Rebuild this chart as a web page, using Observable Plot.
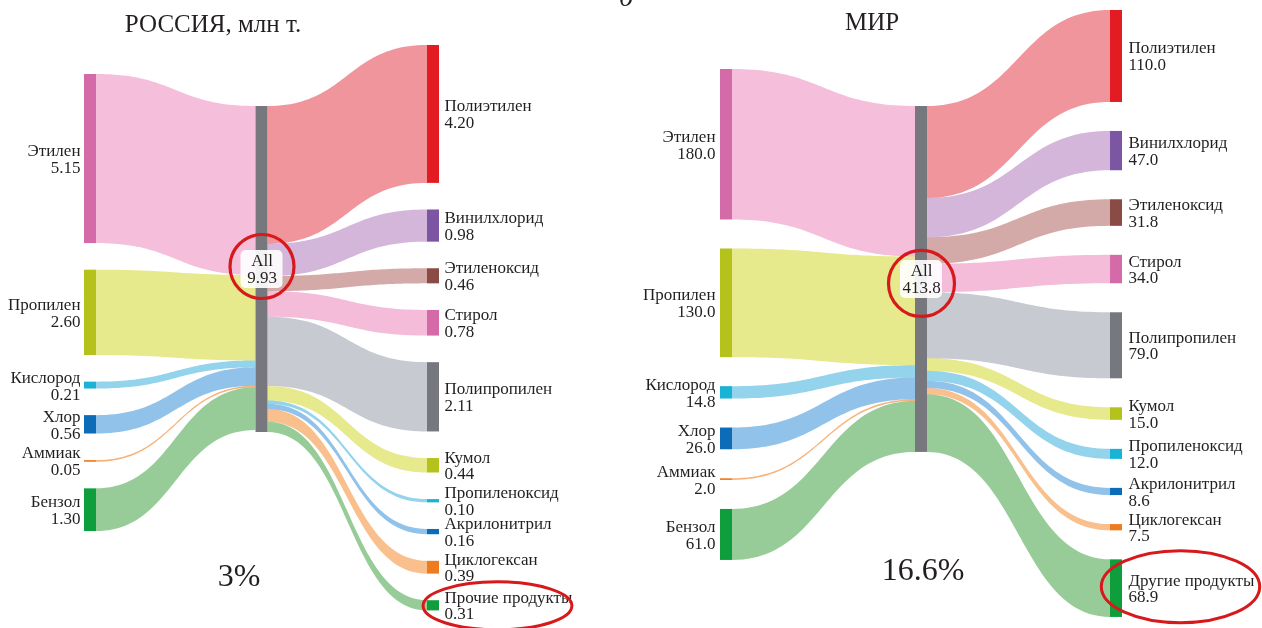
<!DOCTYPE html>
<html><head><meta charset="utf-8">
<script src="https://cdn.jsdelivr.net/npm/d3@7"></script>
<script src="https://cdn.jsdelivr.net/npm/@observablehq/plot@0.6"></script>
<style>
body{margin:0;background:#fff;}
#wrap{position:relative;width:1262px;height:628px;display:flex;overflow:hidden;background:#fff}
#part{position:absolute;left:619px;top:-17px;font:italic 28px/28px "Liberation Serif",serif;color:#231f20}
#wrap svg{overflow:visible}
</style></head><body>
<div id="wrap"><span id="part">б</span></div>
<script>
// ---------- DATA ----------
const sourceNames = ["Этилен", "Пропилен", "Кислород", "Хлор", "Аммиак", "Бензол"];
const targetNamesRu = ["Полиэтилен", "Винилхлорид", "Этиленоксид", "Стирол", "Полипропилен", "Кумол", "Пропиленоксид", "Акрилонитрил", "Циклогексан", "Прочие продукты"];
const targetNamesWorld = ["Полиэтилен", "Винилхлорид", "Этиленоксид", "Стирол", "Полипропилен", "Кумол", "Пропиленоксид", "Акрилонитрил", "Циклогексан", "Другие продукты"];
const hubName = "All";
const sourceValuesRu = [5.15, 2.60, 0.21, 0.56, 0.05, 1.30];
const targetValuesRu = [4.20, 0.98, 0.46, 0.78, 2.11, 0.44, 0.10, 0.16, 0.39, 0.31];
const sourceValuesWorld = [180.0, 130.0, 14.8, 26.0, 2.0, 61.0];
const targetValuesWorld = [110.0, 47.0, 31.8, 34.0, 79.0, 15.0, 12.0, 8.6, 7.5, 68.9];
const panelTitles = ["РОССИЯ, млн т.", "МИР"];
const shareLabels = ["3%", "16.6%"];

// ---------- STYLES ----------
const nodeColor = {
  "Этилен": "#d56aa8", "Пропилен": "#b6c21c", "Кислород": "#1ab3d5", "Хлор": "#0c6cb8",
  "Аммиак": "#ef7b1f", "Бензол": "#0e9e3c", "All": "#77787e",
  "Полиэтилен": "#e21c22", "Винилхлорид": "#7c56a3", "Этиленоксид": "#8b4b45", "Стирол": "#d56aa8",
  "Полипропилен": "#77787e", "Кумол": "#b6c21c", "Пропиленоксид": "#1ab3d5", "Акрилонитрил": "#0c6cb8",
  "Циклогексан": "#ef7b1f", "Прочие продукты": "#0e9e3c", "Другие продукты": "#0e9e3c"
};
const linkColor = {
  "Этилен": "#f5bedb", "Пропилен": "#e6e98c", "Кислород": "#93d3ec", "Хлор": "#90c2ea",
  "Аммиак": "#f7b27a", "Бензол": "#97cc98",
  "Полиэтилен": "#f1959c", "Винилхлорид": "#d3b6da", "Этиленоксид": "#d4aaa9", "Стирол": "#f4bcd9",
  "Полипропилен": "#c8cad1", "Кумол": "#e6e98c", "Пропиленоксид": "#93d3ec", "Акрилонитрил": "#90c2ea",
  "Циклогексан": "#f9c08e", "Прочие продукты": "#97cc98", "Другие продукты": "#97cc98"
};
const FONT = '"Liberation Serif", "Times New Roman", serif';
const TEXT = "#231f20";

function ellipseSymbol(aspect) {
  return {draw(ctx, size) {
    const r = Math.sqrt(size / Math.PI), rx = r * aspect, ry = r, c = 0.5523;
    ctx.moveTo(rx, 0);
    ctx.bezierCurveTo(rx, ry * c, rx * c, ry, 0, ry);
    ctx.bezierCurveTo(-rx * c, ry, -rx, ry * c, -rx, 0);
    ctx.bezierCurveTo(-rx, -ry * c, -rx * c, -ry, 0, -ry);
    ctx.bezierCurveTo(rx * c, -ry, rx, -ry * c, rx, 0);
    ctx.closePath();
  }};
}

function panel(p) {
  const k = p.k, u = px => px / p.k;
  const nodeWu = p.nodeW / ((p.xR - p.xL) / 2);
  const fmt = d3.format(p.fmt);
  const src = [], tgt = [];
  let y = u(p.tops[0]);
  p.srcNames.forEach((n, i) => { const v = p.srcVals[i]; src.push({name: n, value: v, x0: 0, x1: nodeWu, y0: y, y1: y + v, color: nodeColor[n]}); y += v + u(p.pad); });
  const hubVal = d3.sum(p.tgtVals);
  const hub = {name: hubName, value: hubVal, x0: 1, x1: 1 + nodeWu, y0: u(p.tops[1]), y1: u(p.tops[1]) + hubVal, color: nodeColor[hubName]};
  y = u(p.tops[2]);
  p.tgtNames.forEach((n, i) => { const v = p.tgtVals[i]; tgt.push({name: n, value: v, x0: 2, x1: 2 + nodeWu, y0: y, y1: y + v, color: nodeColor[n]}); y += v + u(p.pad); });
  const nodes = [...src, hub, ...tgt];

  const links = [];
  let hy = hub.y0;
  src.forEach(s => { links.push({name: s.name, xa: s.x1, xb: hub.x0, a0: s.y0, a1: s.y1, b0: hy, b1: hy + s.value}); hy += s.value; });
  hy = hub.y0;
  tgt.forEach(t => { links.push({name: t.name, xa: hub.x1, xb: t.x0, a0: hy, a1: hy + t.value, b0: t.y0, b1: t.y1}); hy += t.value; });
  const rows = [];
  const N = 48;
  links.forEach((l, id) => {
    for (let j = 0; j <= N; j++) {
      const t = j / N;
      const fx = 1.5 * t * (1 - t) + t * t * t;
      const fy = 3 * t * t - 2 * t * t * t;
      rows.push({id, x: l.xa + (l.xb - l.xa) * fx, ya: l.a0 + (l.b0 - l.a0) * fy, yb: l.a1 + (l.b1 - l.a1) * fy, color: linkColor[l.name]});
    }
  });
  const last = tgt[tgt.length - 1];
  const hubMid = (hub.y0 + hub.y1) / 2;

  return Plot.plot({
    width: 631, height: 628, margin: 0,
    x: {domain: [0, 2], range: [p.xL, p.xR], axis: null},
    y: {domain: [0, 628 / k], range: [0, 628], axis: null},
    style: {fontFamily: FONT, fontSize: "17px", color: TEXT, background: "white", overflow: "visible"},
    marks: [
      Plot.areaY(rows, {x: "x", y1: "ya", y2: "yb", z: "id", fill: "color", mixBlendMode: "multiply"}),
      Plot.rect(nodes, {x1: "x0", x2: "x1", y1: "y0", y2: "y1", fill: "color"}),
      Plot.text(src, {x: "x0", y: d => (d.y0 + d.y1) / 2, text: d => d.name + "\n" + fmt(d.value), textAnchor: "end", dx: p.dxL, lineAnchor: "middle", lineHeight: 1.0, fill: TEXT, fontSize: 17}),
      Plot.text(tgt, {x: "x1", y: d => (d.y0 + d.y1) / 2, text: d => d.name + "\n" + fmt(d.value), textAnchor: "start", dx: p.dxR, lineAnchor: "middle", lineHeight: 0.98, fill: TEXT, fontSize: 17}),
      Plot.rect([hub], {x1: d => (d.x0 + d.x1) / 2, x2: d => (d.x0 + d.x1) / 2, y1: () => hubMid, y2: () => hubMid, fill: "white", fillOpacity: 0.9, rx: 5, insetLeft: -21, insetRight: -21, insetTop: -19, insetBottom: -19}),
      Plot.text([hub], {x: d => (d.x0 + d.x1) / 2, y: () => hubMid, text: d => d.name + "\n" + fmt(d.value), lineAnchor: "middle", lineHeight: 1.0, fill: TEXT, fontSize: 17}),
      Plot.dot([hub], {x: d => (d.x0 + d.x1) / 2, y: () => hubMid, r: p.circleR, dy: p.circleDy, stroke: "#d7191c", strokeWidth: 3.2, fill: "none"}),
      Plot.dot([last], {x: "x0", y: d => (d.y0 + d.y1) / 2, r: p.ellR, symbol: ellipseSymbol(p.ellAspect), dx: p.ellDx, dy: p.ellDy, stroke: "#d7191c", strokeWidth: 3, fill: "none"}),
      Plot.text([p.title], {frameAnchor: "top", dx: p.titleDx, dy: p.titleDy, lineAnchor: "top", fontSize: 25, fill: TEXT}),
      Plot.text([p.share], {frameAnchor: "top", dx: p.shareDx, dy: p.shareDy, lineAnchor: "top", fontSize: 32, fill: TEXT})
    ]
  });
}

const wrap = document.getElementById("wrap");
wrap.appendChild(panel({
  srcNames: sourceNames, srcVals: sourceValuesRu, tgtNames: targetNamesRu, tgtVals: targetValuesRu,
  k: 32.83, tops: [74, 106, 45], pad: 26.6, xL: 84, xR: 427, nodeW: 12, fmt: ".2f",
  dxL: -4, dxR: 5, circleR: 32, circleDy: -3, ellR: 24, ellAspect: 3.1, ellDx: 70, ellDy: 0,
  title: panelTitles[0], titleDx: -103, titleDy: 14, share: shareLabels[0], shareDx: -77, shareDy: 563
}));
wrap.appendChild(panel({
  srcNames: sourceNames, srcVals: sourceValuesWorld, tgtNames: targetNamesWorld, tgtVals: targetValuesWorld,
  k: 0.836, tops: [69, 106, 10], pad: 29, xL: 89, xR: 479, nodeW: 12, fmt: ".1f",
  dxL: -5, dxR: 6, circleR: 33, circleDy: 4, ellR: 36, ellAspect: 2.2, ellDx: 70, ellDy: -2,
  title: panelTitles[1], titleDx: -75, titleDy: 12, share: shareLabels[1], shareDx: -24, shareDy: 557
}));
</script>
</body></html>
